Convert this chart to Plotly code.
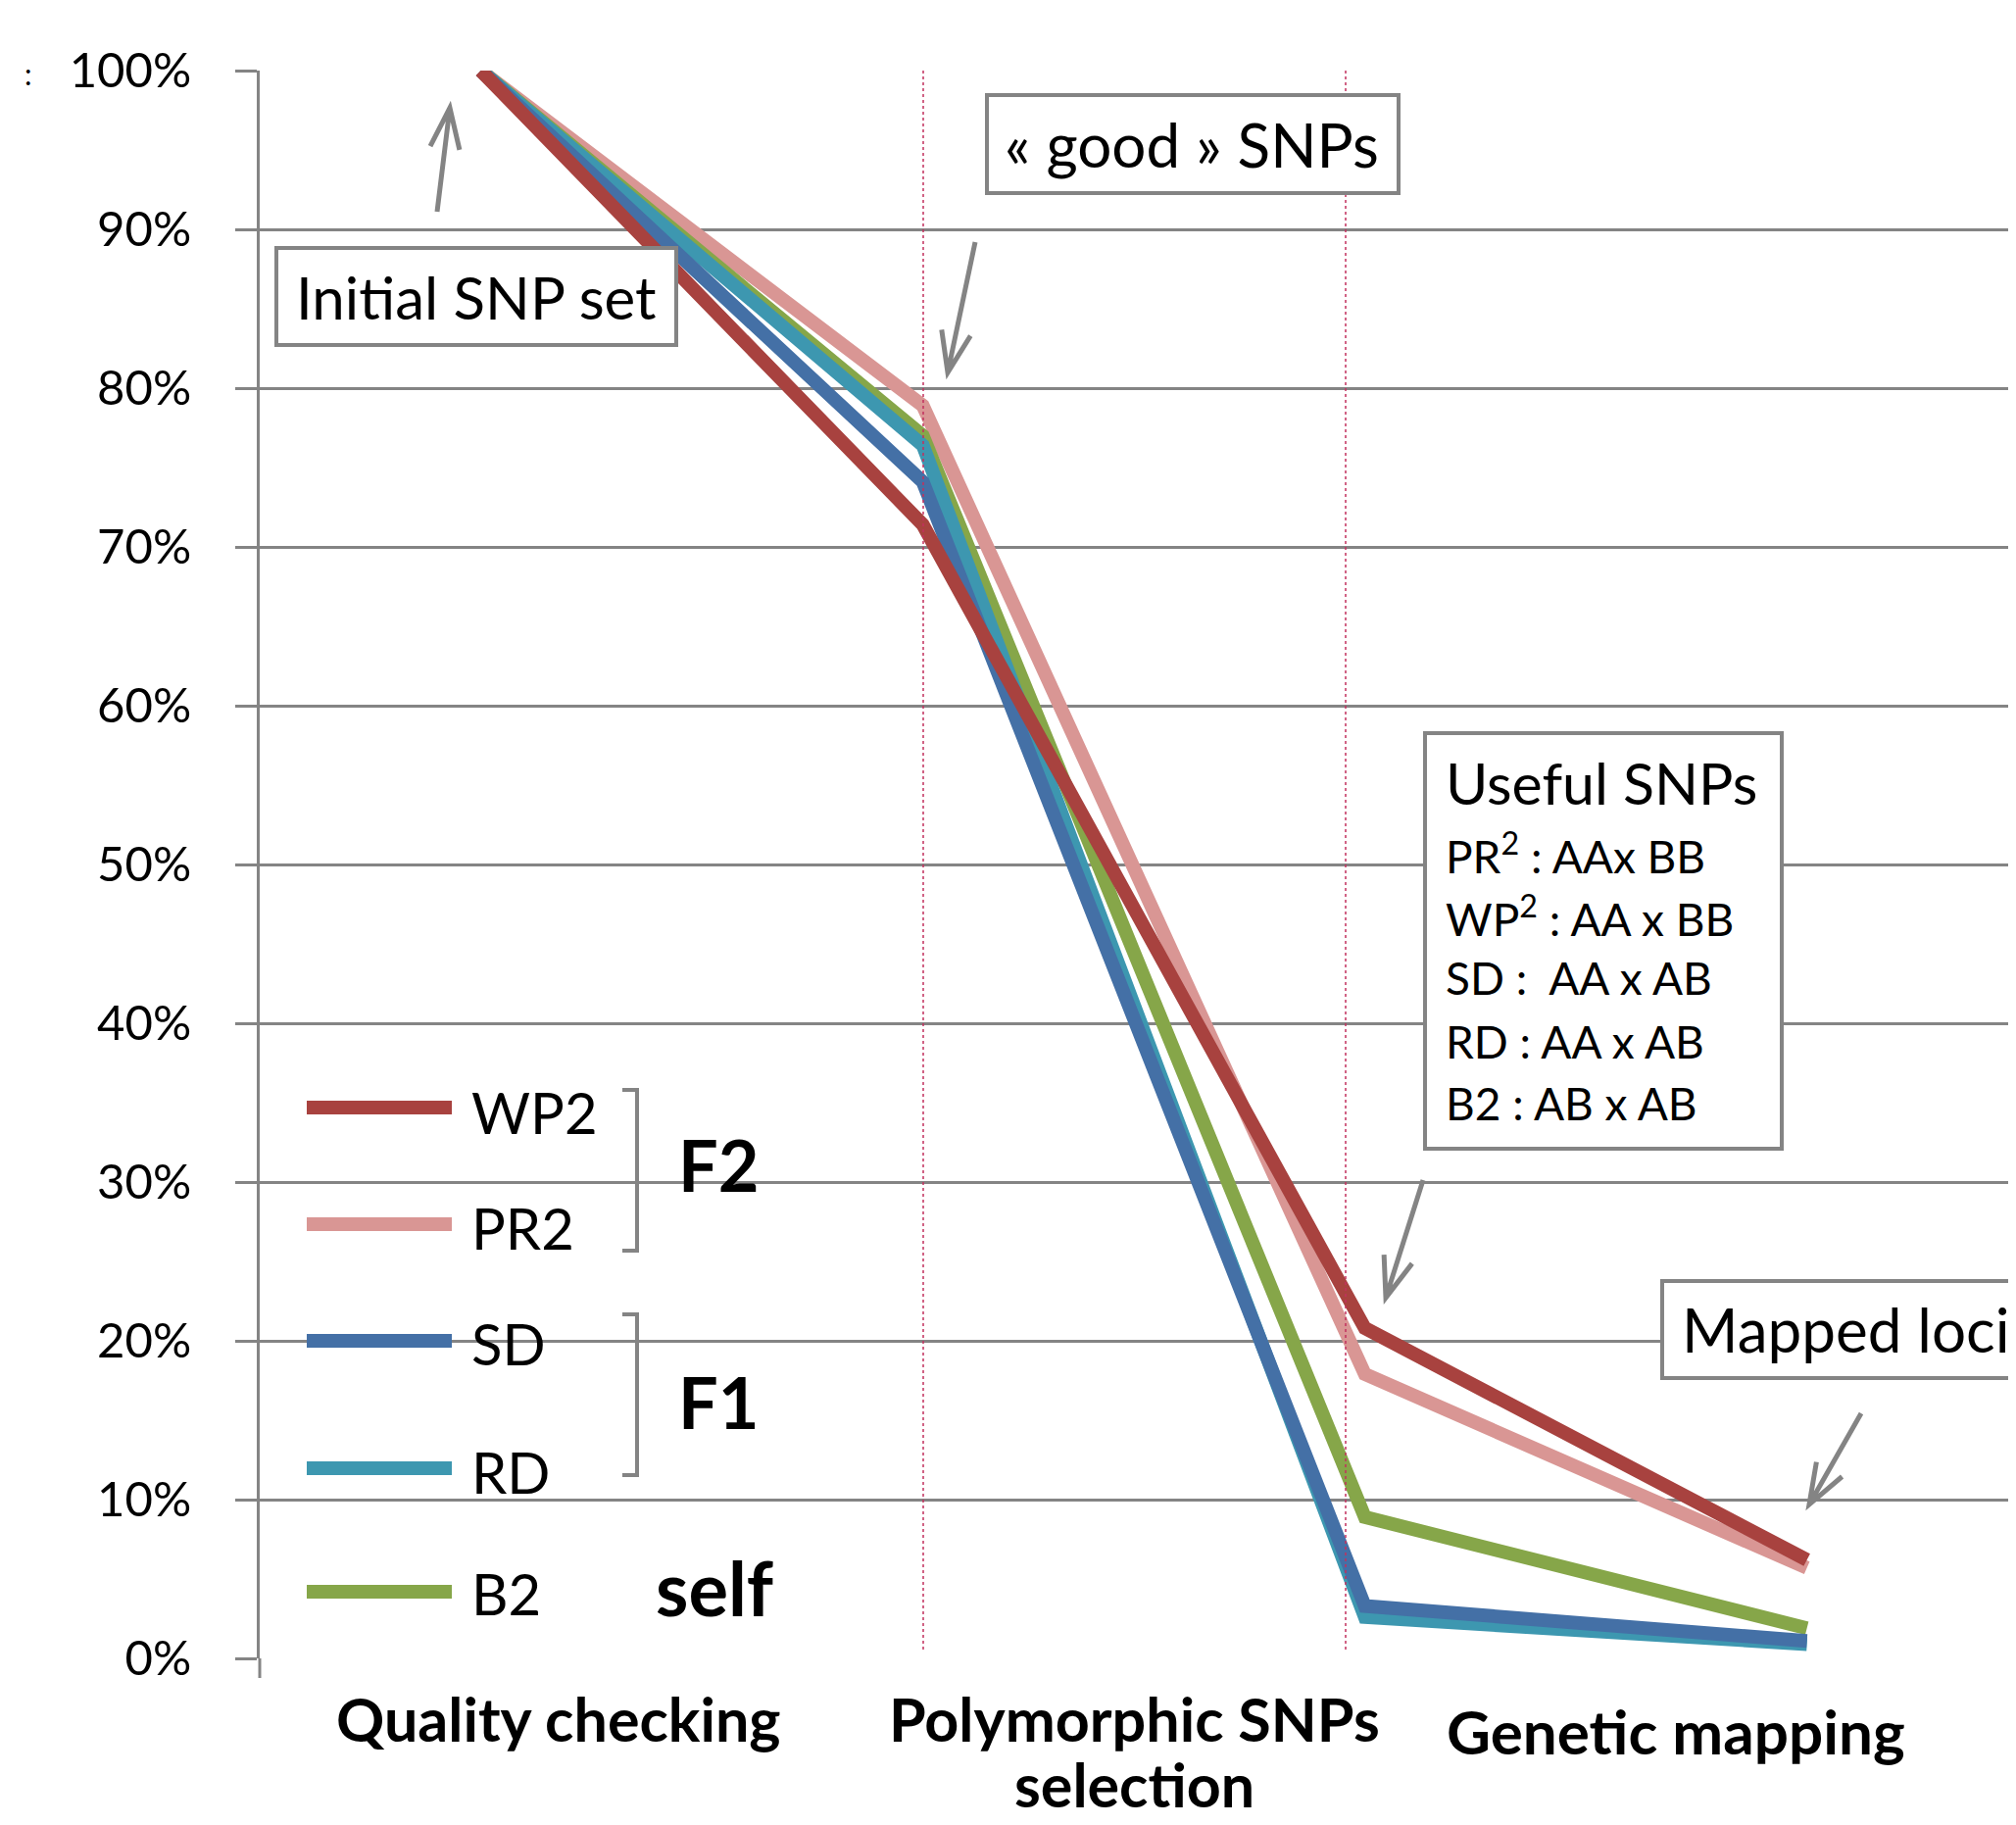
import math
import plotly.graph_objects as go

# ---------------- data ----------------
steps = ["Initial SNP set", "« good » SNPs", "Useful SNPs", "Mapped loci"]
series_names = ["WP2", "PR2", "SD", "RD", "B2"]
wp2 = [1.00, 0.714, 0.208, 0.062]
pr2 = [1.00, 0.789, 0.179, 0.057]
sd = [1.00, 0.741, 0.033, 0.011]
rd = [1.00, 0.764, 0.026, 0.009]
b2 = [1.00, 0.770, 0.089, 0.019]
y_ticks = [0, 0.1, 0.2, 0.3, 0.4, 0.5, 0.6, 0.7, 0.8, 0.9, 1.0]
stage_labels = ["Quality checking", "Polymorphic SNPs", "selection", "Genetic mapping"]
useful_lines = ["PR<sup>2</sup> : AAx BB", "WP<sup>2</sup> : AA x BB", "SD :\u00a0 AA x AB",
                "RD : AA x AB", "B2 : AB x AB"]

colors = {"WP2": "#A8423F", "PR2": "#D99694", "SD": "#4470A6", "RD": "#3D97B0", "B2": "#86A649"}
values = {"WP2": wp2, "PR2": pr2, "SD": sd, "RD": rd, "B2": b2}

# ---------------- geometry (page pixels; the page body has an 8px margin) ----------------
OFF = 8
W, H = 2057 - OFF, 1862 - OFF
X0, X1 = 265, 2057          # plot area in page pixels
Y0, Y1 = 72, 1692
ML = X0 - OFF
MT = Y0 - OFF
MR = W - (X1 - OFF)
MB = H - (Y1 - OFF)
PW = X1 - X0
PH = Y1 - Y0
GRAY = "#848484"
FONT = "Lato"


def px(x):
    return (x - X0) / PW


def py(y):
    return (Y1 - y) / PH


fig = go.Figure()

draw_order = ["PR2", "B2", "RD", "SD", "WP2"]
for name in draw_order:
    fig.add_trace(go.Scatter(x=steps, y=values[name], mode="lines", name=name,
                             line=dict(color=colors[name], width=14),
                             showlegend=False, hoverinfo="skip"))

shapes = []
annotations = []

# white boxes hiding gridlines (legend area and category-label area)
shapes.append(dict(type="rect", xref="paper", yref="paper", layer="between",
                   x0=px(268), x1=px(836), y0=py(1688), y1=py(1095),
                   fillcolor="white", line=dict(width=0)))
shapes.append(dict(type="rect", xref="paper", yref="paper", layer="between",
                   x0=px(321), x1=px(1886), y0=py(1702), y1=py(1686),
                   fillcolor="white", line=dict(width=0)))

# axis tick below the y axis
shapes.append(dict(type="line", xref="paper", yref="paper", layer="above",
                   x0=px(265), x1=px(265), y0=py(1692), y1=py(1712),
                   line=dict(color=GRAY, width=3)))

# dotted vertical separators
for xv in [942, 1373]:
    shapes.append(dict(type="line", xref="paper", yref="paper", layer="above",
                       x0=px(xv), x1=px(xv), y0=py(72), y1=py(1683),
                       line=dict(color="#C2305E", width=1.5, dash="dot")))

# text boxes
box_rects = [(282, 253, 690, 352), (1007, 97, 1427, 197), (1454, 748, 1818, 1172),
             (1696, 1307, 2080, 1406)]
for (x0, y0, x1, y1) in box_rects:
    shapes.append(dict(type="rect", xref="paper", yref="paper", layer="above",
                       x0=px(x0), x1=px(x1), y0=py(y1), y1=py(y0),
                       fillcolor="white", line=dict(color=GRAY, width=4)))


def arrow(tail, tip, length=44, ang=20):
    tx, ty = tail
    hx, hy = tip
    dx, dy = tx - hx, ty - hy
    n = math.hypot(dx, dy)
    ux, uy = dx / n, dy / n
    pts = []
    for s in (-1, 1):
        a = math.radians(ang * s)
        wx = ux * math.cos(a) - uy * math.sin(a)
        wy = ux * math.sin(a) + uy * math.cos(a)
        pts.append((hx + wx * length, hy + wy * length))
    path = (f"M {px(tx)},{py(ty)} L {px(hx)},{py(hy)} "
            f"M {px(pts[0][0])},{py(pts[0][1])} L {px(hx)},{py(hy)} L {px(pts[1][0])},{py(pts[1][1])}")
    return dict(type="path", xref="paper", yref="paper", layer="above", path=path,
                line=dict(color=GRAY, width=5))


shapes.append(arrow((446, 216), (459, 110)))
shapes.append(arrow((995, 247), (967, 380)))
shapes.append(arrow((1452, 1204), (1414, 1324)))
shapes.append(arrow((1899, 1442), (1846, 1535)))

# legend brackets
for (ytop, ybot) in [(1112, 1276), (1341, 1505)]:
    path = (f"M {px(635)},{py(ytop)} L {px(650)},{py(ytop)} L {px(650)},{py(ybot)} "
            f"L {px(635)},{py(ybot)}")
    shapes.append(dict(type="path", xref="paper", yref="paper", layer="above", path=path,
                       line=dict(color=GRAY, width=4)))

# legend samples
legend_order = ["WP2", "PR2", "SD", "RD", "B2"]
legend_line_y = [1130, 1249, 1368, 1498, 1624]
legend_text_y = [1134, 1252, 1370, 1501, 1625]
for name, ly, ty in zip(legend_order, legend_line_y, legend_text_y):
    shapes.append(dict(type="line", xref="paper", yref="paper", layer="above",
                       x0=px(313), x1=px(461), y0=py(ly), y1=py(ly),
                       line=dict(color=colors[name], width=14)))
    annotations.append(dict(text=name, xref="paper", yref="paper", x=px(479), y=py(ty),
                            xanchor="left", yanchor="middle", showarrow=False,
                            font=dict(family=FONT, size=58, color="black")))

for txt, (cx, cy), sz in zip(["F2", "F1", "self"], [(733, 1188), (733, 1430), (729, 1619)],
                             [72, 72, 76]):
    annotations.append(dict(text=f"<b>{txt}</b>", xref="paper", yref="paper", x=px(cx), y=py(cy),
                            xanchor="center", yanchor="middle", showarrow=False,
                            font=dict(family=FONT, size=sz, color="black")))


def text(t, x, y, size, anchor="center", bold=False):
    annotations.append(dict(text=(f"<b>{t}</b>" if bold else t), xref="paper", yref="paper",
                            x=px(x), y=py(y), xanchor=anchor, yanchor="middle",
                            showarrow=False, font=dict(family=FONT, size=size, color="black")))


# box texts
text(steps[0], 486, 303, 60)
text(steps[1], 1216, 147, 62)
text(steps[2], 1473, 798, 59, anchor="left")
for i, t in enumerate(useful_lines):
    text(t, 1473, [870, 934, 997, 1062, 1125][i], 46, anchor="left")
text(steps[3], 1714, 1356, 62, anchor="left")

# stage labels
text(stage_labels[0], 570, 1753, 61, bold=True)
text(stage_labels[1], 1157, 1753, 61, bold=True)
text(stage_labels[2], 1157, 1820, 61, bold=True)
text(stage_labels[3], 1710, 1766, 62, bold=True)

# small artefact at top-left
text(":", 29, 75, 30, anchor="center")

fig.update_layout(
    width=W, height=H,
    margin=dict(l=ML, r=MR, t=MT, b=MB, pad=0),
    plot_bgcolor="white", paper_bgcolor="white",
    shapes=shapes, annotations=annotations,
    xaxis=dict(type="category", range=[-0.5, 3.473], showgrid=False, showline=False,
               zeroline=False, showticklabels=False, ticks=""),
    yaxis=dict(range=[0, 1], tickvals=y_ticks, tickformat=".0%", ticks="outside",
               ticklen=22, tickwidth=3, tickcolor=GRAY, showgrid=True, gridcolor=GRAY,
               gridwidth=3, showline=True, linecolor=GRAY, linewidth=3, zeroline=False,
               ticklabelstandoff=35,
               tickfont=dict(family=FONT, size=49, color="black")),
    showlegend=False,
)

fig.write_html("out.html")
